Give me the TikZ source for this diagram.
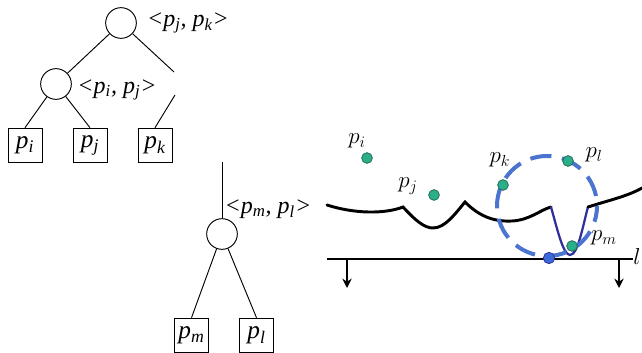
\documentclass[tikz,border=0pt]{standalone}
\usepackage{fontspec}
\setmainfont{Liberation Serif}
\usetikzlibrary{arrows.meta}
\definecolor{dotgreen}{HTML}{2BAE8A}
\definecolor{dotedge}{HTML}{1D6B55}
\definecolor{dashblue}{HTML}{4A74D0}
\definecolor{dotblue}{HTML}{3A6AD8}
\definecolor{navy}{HTML}{30309A}
\begin{document}
\begin{tikzpicture}[x=0.75pt,y=-0.75pt,
  treeline/.style={line width=0.7pt},
  circ/.style={circle,draw,line width=0.7pt,minimum size=23pt,inner sep=0pt},
  leaf/.style={draw,line width=0.7pt,minimum width=25.5pt,minimum height=26pt,inner sep=0pt,font=\rmfamily\itshape\fontsize{19}{21}\selectfont},
  tlabel/.style={inner sep=0pt,font=\rmfamily\itshape\fontsize{18}{20}\selectfont},
  mlabel/.style={inner sep=0pt,font=\fontsize{17}{20}\selectfont},
  gdot/.style={circle,fill=dotgreen,draw=dotedge,line width=0.6pt,minimum size=8pt,inner sep=0pt},
  bdot/.style={circle,fill=dotblue,draw=navy,line width=0.6pt,minimum size=8.5pt,inner sep=0pt},
  thick curve/.style={line width=2.2pt,line cap=round},
  downarrow/.style={line width=1.6pt,-{Stealth[length=7pt,width=7pt]}}]
\useasboundingbox (0,0) rectangle (642,353);
% ---------- trees ----------
\node[circ] (n1) at (121,23) {};
\node[circ] (n2) at (56,84) {};
\node[circ] (n3) at (222,234) {};
\node[leaf] (bi) at (25,145.5) {p\textsubscript{i}};
\node[leaf] (bj) at (90,145.5) {p\textsubscript{j}};
\node[leaf] (bk) at (155,145.5) {p\textsubscript{k}};
\node[leaf] (bm) at (191.5,335.5) {p\textsubscript{m}};
\node[leaf] (bl) at (256.5,335.5) {p\textsubscript{l}};
\node[tlabel] (l1) at (188,23) {<p\textsubscript{j}, p\textsubscript{k}>};
\node[tlabel] (l2) at (117,90) {<p\textsubscript{i}, p\textsubscript{j}>};
\node[tlabel] (l3) at (268,209) {<p\textsubscript{m}, p\textsubscript{l}>};
\coordinate (c1) at (174,72);
\coordinate (c2) at (175,95);
\coordinate (c3) at (222,162);
\draw[treeline] (n1) -- (n2);
\draw[treeline] (n1) -- (c1);
\draw[treeline] (c2) -- (bk.north);
\draw[treeline] (n2) -- (bi.north);
\draw[treeline] (n2) -- (bj.north);
\draw[treeline] (c3) -- (n3);
\draw[treeline] (n3) -- (bm.north);
\draw[treeline] (n3) -- (bl.north);
% ---------- right scene ----------
\coordinate (s0) at (327,205);
\coordinate (k1) at (403,207);
\coordinate (k2) at (465,202);
\coordinate (k3) at (551,207);
\coordinate (k4) at (588,207);
\coordinate (s1) at (642,188);
\draw[thick curve] (s0) .. controls (355,214) and (385,214) .. (k1)
  .. controls (415,220) and (424,228) .. (433,228)
  .. controls (445,228) and (455,214) .. (k2)
  .. controls (478,215) and (492,222) .. (512,221)
  .. controls (530,220) and (540,210) .. (k3);
\draw[line width=1.7pt,navy,line cap=round,line join=round] (k3) .. controls (557,228) and (563,255) .. (570,255)
  .. controls (578,255) and (583,225) .. (k4);
\draw[thick curve] (k4) .. controls (610,200) and (628,196) .. (s1);
\coordinate (b0) at (327,259);
\coordinate (b1) at (633,259);
\draw[line width=2.2pt] (b0) -- (b1);
\coordinate (a0) at (347,259);
\coordinate (a1) at (347,288);
\coordinate (a2) at (619,259);
\coordinate (a3) at (619,288);
\draw[downarrow] (a0) -- (a1);
\draw[downarrow] (a2) -- (a3);
\coordinate (dc) at (547,206);
\draw[dashblue,line width=3pt,dash pattern=on 16pt off 8pt,dash phase=4pt] (dc) circle[radius=50];
\node[gdot] (di) at (367,158) {};
\node[gdot] (dj) at (434,195) {};
\node[gdot] (dk) at (503,185) {};
\node[gdot] (dl) at (568,161) {};
\node[gdot] (dm) at (572,246) {};
\node[bdot] (dp) at (549,258) {};
\node[mlabel] (li) at (357,141) {$p_i$};
\node[mlabel] (lj) at (408,186) {$p_j$};
\node[mlabel] (lk) at (500,160) {$p_k$};
\node[mlabel] (ll) at (594,155) {$p_l$};
\node[mlabel] (lm) at (604,238) {$p_m$};
\node[mlabel,anchor=west] (ln) at (633,256) {$l$};
\end{tikzpicture}
\end{document}
